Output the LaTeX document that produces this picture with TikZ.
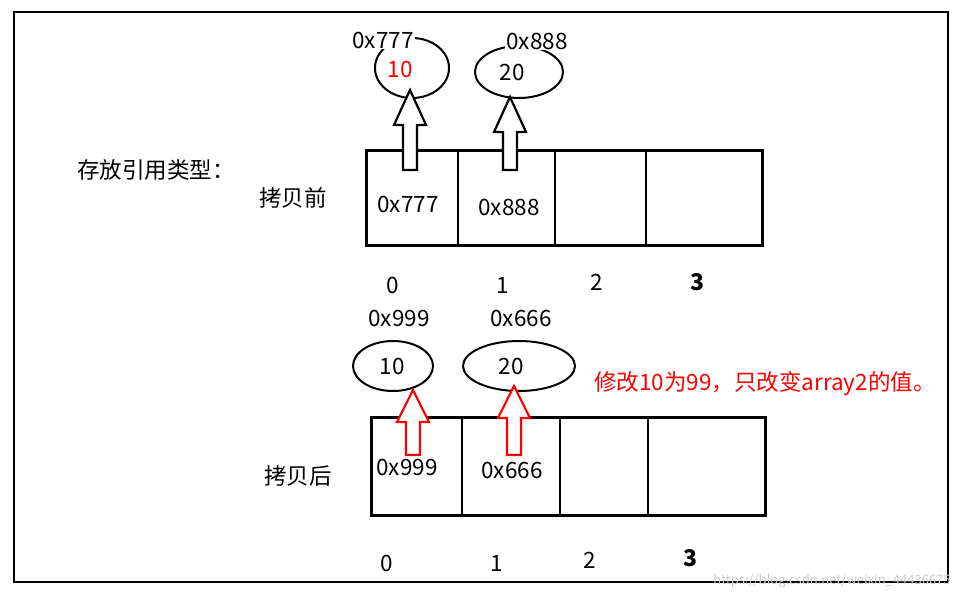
\documentclass[tikz,border=0pt]{standalone}
\usepackage{fontspec}
\setmainfont{Noto Sans CJK SC}
\begin{document}
\begin{tikzpicture}[x=1pt,y=-1pt,
  t/.style={font=\fontsize{22.5}{24}\selectfont,inner sep=0pt},
  arr/.style={line width=2.2pt,line cap=butt,line join=miter},
  ell/.style={line width=2pt},
  box/.style={line width=3pt}]
\useasboundingbox (0,0) rectangle (976,602);
\fill[white] (0,0) rectangle (976,602);
\draw[line width=2pt] (14,12) rectangle (948,582);
% labels
\node[t] (lbl) at (156,170) {存放引用类型：};
\node[t] (before) at (293,198) {拷贝前};
\node[t] (after) at (298,476) {拷贝后};
% top array
\draw[box] (366,150) rectangle (762,245);
\foreach \x in {458,555,646} \draw[line width=2pt] (\x,150) -- (\x,245);
\node[t] (c1) at (408,204) {0x777};
\node[t] (c2) at (509,207) {0x888};
\node[t] at (393,285) {0};
\node[t] at (503,285) {1};
\node[t] at (597,282) {2};
\node[t,font=\bfseries\fontsize{23}{24}\selectfont] at (697,282) {3};
% top ellipses
\draw[ell] (412,68) ellipse (37 and 30);
\draw[ell] (519,72) ellipse (44 and 26);
\node[t,fill=white,inner sep=1pt] at (383,40) {0x777};
\node[t,text=red] at (400,69) {10};
\node[t,fill=white,inner sep=1pt] at (537,41) {0x888};
\node[t] at (512,72) {20};
% hollow arrows top
\foreach \cx/\yb/\yt in {410/170/90, 510/170/97}{
  \draw[arr,fill=white] (\cx-7,\yb) -- (\cx-7,\yt+35) -- (\cx-16,\yt+35) -- (\cx,\yt) -- (\cx+16,\yt+35) -- (\cx+7,\yt+35) -- (\cx+7,\yb) -- cycle;}
% bottom
\node[t] at (399,318) {0x999};
\node[t] at (521,318) {0x666};
\draw[ell] (393,366) ellipse (40 and 25);
\draw[ell] (519,366) ellipse (56 and 25);
\node[t] at (392,366) {10};
\node[t] at (511,366) {20};
\node[t,text=red] (note) at (765,384) {修改10为99，只改变array2的值。};
\draw[box] (371,417) rectangle (765,515);
\foreach \x in {462,560,648} \draw[line width=2pt] (\x,417) -- (\x,515);
\foreach \cx/\yb/\yt in {413/455/390, 514/455/386}{
  \draw[arr,draw=red,fill=white] (\cx-7,\yb) -- (\cx-7,\yt+32) -- (\cx-16,\yt+32) -- (\cx,\yt) -- (\cx+16,\yt+32) -- (\cx+7,\yt+32) -- (\cx+7,\yb) -- cycle;}
\node[t] at (407,467) {0x999};
\node[t] at (512,470) {0x666};
\node[t] at (387,563) {0};
\node[t] at (497,563) {1};
\node[t] at (590,560) {2};
\node[t,font=\bfseries\fontsize{23}{24}\selectfont] at (690,558) {3};
\node[t,text=gray!40,font=\fontsize{13}{14}\selectfont] at (832,581) {https://blog.csdn.net/weixin\_44436675};
\end{tikzpicture}
\end{document}
